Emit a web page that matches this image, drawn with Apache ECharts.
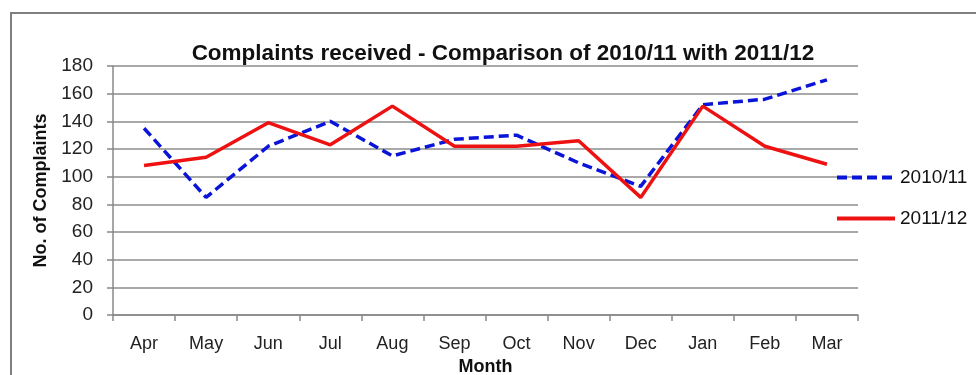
<!DOCTYPE html>
<html>
<head>
<meta charset="utf-8">
<script src="https://cdn.jsdelivr.net/npm/echarts@6/dist/echarts.min.js"></script>
<style>
  html, body { margin: 0; padding: 0; background: #fff; }
  #chart { width: 976px; height: 375px; }
</style>
</head>
<body>
<div id="chart"></div>
<script>
// Monthly complaint counts, financial year April to March
const months = ['Apr', 'May', 'Jun', 'Jul', 'Aug', 'Sep', 'Oct', 'Nov', 'Dec', 'Jan', 'Feb', 'Mar'];
const complaints2010 = [135, 85, 122, 140, 115, 127, 130, 110, 93, 152, 156, 170];
const complaints2011 = [108, 114, 139, 123, 151, 122, 122, 126, 85, 151, 122, 109];
const yTicks = [0, 20, 40, 60, 80, 100, 120, 140, 160, 180];

const FONT = '"Liberation Sans", Arial, sans-serif';
const chart = echarts.init(document.getElementById('chart'), null, { renderer: 'canvas' });

chart.setOption({
  animation: false,
  backgroundColor: '#ffffff',
  textStyle: { fontFamily: FONT },
  graphic: [{
    type: 'rect',
    shape: { x: 11, y: 13, width: 1000, height: 400 },
    style: { fill: 'none', stroke: '#7f7f7f', lineWidth: 2 },
    silent: true
  }],
  title: {
    text: 'Complaints received - Comparison of 2010/11 with 2011/12',
    left: 498,
    textAlign: 'center',
    top: 37,
    textStyle: { fontFamily: FONT, fontSize: 22.5, fontWeight: 'bold', color: '#111' }
  },
  legend: {
    orient: 'vertical',
    left: 830,
    top: 163,
    itemWidth: 58,
    itemHeight: 14,
    itemGap: 22,
    itemStyle: { opacity: 0 },
    lineStyle: { width: 4 },
    textStyle: { fontFamily: FONT, fontSize: 19, color: '#111' },
    data: ['2010/11', '2011/12']
  },
  grid: { left: 113, right: 118, top: 66, bottom: 60, containLabel: false, outerBoundsMode: 'none' },
  xAxis: {
    type: 'category',
    data: months,
    boundaryGap: true,
    name: 'Month',
    nameLocation: 'middle',
    nameGap: 40,
    nameTextStyle: { fontFamily: FONT, fontSize: 18, fontWeight: 'bold', color: '#111' },
    axisLine: { lineStyle: { color: '#888', width: 1.5 } },
    axisTick: { show: true, length: 6, lineStyle: { color: '#888', width: 1.5 } },
    axisLabel: { fontFamily: FONT, fontSize: 18, color: '#222', margin: 20 }
  },
  yAxis: {
    type: 'value',
    min: yTicks[0],
    max: yTicks[yTicks.length - 1],
    interval: 20,
    name: 'No. of Complaints',
    nameLocation: 'middle',
    nameGap: 57,
    nameTextStyle: { fontFamily: FONT, fontSize: 18, fontWeight: 'bold', color: '#111' },
    axisLine: { show: true, lineStyle: { color: '#888', width: 1.5 } },
    axisTick: { show: true, length: 6, lineStyle: { color: '#888', width: 1.5 } },
    axisLabel: { fontFamily: FONT, fontSize: 19, color: '#222', margin: 20 },
    splitLine: { lineStyle: { color: '#8c8c8c', width: 1.5 } }
  },
  series: [
    {
      name: '2010/11',
      type: 'line',
      data: complaints2010,
      symbol: 'none',
      lineStyle: { color: '#0a14d8', width: 3.5, type: [10, 5] },
      itemStyle: { color: '#0a14d8' }
    },
    {
      name: '2011/12',
      type: 'line',
      data: complaints2011,
      symbol: 'none',
      lineStyle: { color: '#ee1111', width: 3.5 },
      itemStyle: { color: '#ee1111' }
    }
  ]
});
</script>
</body>
</html>
